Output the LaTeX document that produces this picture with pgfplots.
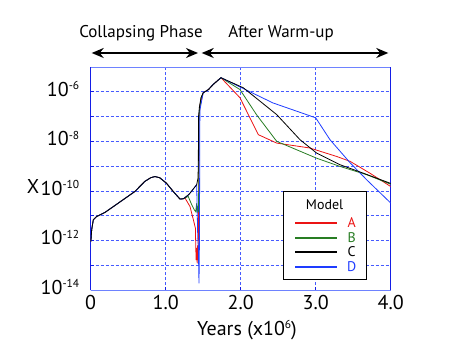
\documentclass[border=0pt]{standalone}
\usepackage{pgfplots}
\pgfplotsset{compat=1.18}
\usepackage{fontspec}
\setmainfont{PT Sans}
\usetikzlibrary{arrows.meta}
\newcommand{\sps}[1]{\raisebox{6.5bp}{\fontsize{11.5bp}{12bp}\selectfont #1}}
\definecolor{gridblue}{RGB}{70,90,255}
\definecolor{axblue}{RGB}{20,30,230}
\definecolor{raxblue}{RGB}{110,130,255}
\definecolor{cA}{RGB}{235,20,20}
\definecolor{cB}{RGB}{40,125,35}
\definecolor{cC}{RGB}{0,0,0}
\definecolor{cD}{RGB}{30,60,255}

\pgfplotstableread{
x y
0.0 8.9e-13
0.004 1.05e-12
0.013 2.7e-12
0.035 6.8e-12
0.08 9.3e-12
0.19 1.35e-11
0.37 3.24e-11
0.59 9.5e-11
0.72 2.4e-10
0.80 3.4e-10
0.857 3.8e-10
0.92 3.4e-10
1.01 2.04e-10
1.10 9.5e-11
1.19 4.7e-11
1.235 4.8e-11
1.26 5.0e-11
1.324 2.34e-11
1.369 6.8e-12
1.396 3.16e-12
1.400 7.9e-13
1.405 1.6e-13
1.410 5.0e-13
1.415 2.5e-13
1.420 1.2e-13
1.425 6.3e-13
1.430 1.6e-13
1.438 2.5e-12
1.442 1.0e-9
1.445 1.0e-7
1.46 3.2e-7
1.50 9.1e-7
1.57 1.23e-6
1.635 2.0e-6
1.737 3.7e-6
1.99 5.75e-7
2.235 1.86e-8
2.48 8.5e-9
2.92 5.4e-9
3.28 2.45e-9
3.46 1.55e-9
3.72 5.25e-10
4.0 1.5e-10
}\modelA

\pgfplotstableread{
x y
0.0 8.9e-13
0.004 1.05e-12
0.013 2.7e-12
0.035 6.8e-12
0.08 9.3e-12
0.19 1.35e-11
0.37 3.24e-11
0.59 9.5e-11
0.72 2.4e-10
0.80 3.4e-10
0.857 3.8e-10
0.92 3.4e-10
1.01 2.04e-10
1.10 9.5e-11
1.19 4.7e-11
1.235 4.8e-11
1.30 6.0e-11
1.347 2.75e-11
1.382 1.7e-11
1.40 1.45e-11
1.413 3.16e-11
1.42 1.26e-11
1.43 2.5e-11
1.438 1.4e-11
1.443 1.0e-8
1.446 1.26e-7
1.471 5.75e-7
1.50 9.1e-7
1.57 1.23e-6
1.635 2.0e-6
1.737 3.7e-6
1.99 1.23e-6
2.21 1.2e-7
2.48 1.0e-8
3.01 2.1e-9
3.32 9.8e-10
3.68 4.5e-10
4.0 1.86e-10
}\modelB

\pgfplotstableread{
x y
0.0 8.9e-13
0.004 1.05e-12
0.013 2.7e-12
0.035 6.8e-12
0.08 9.3e-12
0.19 1.35e-11
0.37 3.24e-11
0.59 9.5e-11
0.72 2.4e-10
0.80 3.4e-10
0.857 3.8e-10
0.92 3.4e-10
1.01 2.04e-10
1.10 9.5e-11
1.19 4.7e-11
1.235 4.8e-11
1.30 6.8e-11
1.324 8.1e-11
1.413 1.78e-10
1.43 3.16e-10
1.435 1.0e-9
1.438 1.0e-7
1.45 2.5e-7
1.471 5.75e-7
1.50 9.1e-7
1.57 1.23e-6
1.635 2.0e-6
1.737 3.7e-6
2.035 1.45e-6
2.48 1.2e-7
2.79 1.17e-8
3.01 3.4e-9
3.32 1.15e-9
3.63 5.25e-10
4.0 2.0e-10
}\modelC

\pgfplotstableread{
x y
0.0 8.9e-13
0.004 1.05e-12
0.013 2.7e-12
0.035 6.8e-12
0.08 9.3e-12
0.19 1.35e-11
0.37 3.24e-11
0.59 9.5e-11
0.72 2.4e-10
0.80 3.4e-10
0.857 3.8e-10
0.92 3.4e-10
1.01 2.04e-10
1.10 9.5e-11
1.19 4.7e-11
1.235 4.8e-11
1.30 6.8e-11
1.324 8.1e-11
1.413 1.78e-10
1.427 1.45e-12
1.435 5.6e-13
1.444 1.86e-14
1.450 1.0e-12
1.455 5.5e-8
1.457 1.9e-7
1.50 9.1e-7
1.57 1.23e-6
1.635 2.0e-6
1.737 3.7e-6
2.43 3.55e-7
3.0 8.9e-8
3.19 1.17e-8
3.46 1.35e-9
3.68 2.8e-10
4.0 3.24e-11
}\modelD

\begin{document}
\begin{tikzpicture}
\path[use as bounding box] (0,0) rectangle (450bp,346bp);
\begin{axis}[
  at={(90.7bp,56bp)}, anchor=south west,
  scale only axis, width=300bp, height=223bp,
  ymode=log,
  xmin=0, xmax=4, ymin=1e-14, ymax=1e-5,
  xtick={0,1,2,3,4},
  xticklabels={0,1.0,2.0,3.0,4.0},
  ytick={1e-14,1e-12,1e-10,1e-8,1e-6},
  yticklabels={10\sps{-14},10\sps{-12},10\sps{-10},10\sps{-8},10\sps{-6}},
  minor ytick={1e-13,1e-11,1e-9,1e-7},
  xmajorgrids, ymajorgrids, yminorgrids,
  major grid style={gridblue, dash pattern=on 3bp off 2bp, line width=0.6bp},
  minor grid style={gridblue, dash pattern=on 3bp off 2bp, line width=0.6bp},
  tick pos=left,
  major tick length=3bp, minor tick length=3bp,
  tick style={axblue, line width=0.7bp},
  axis line style={raxblue, line width=0.8bp},
  separate axis lines,
  y axis line style={axblue},
  ticklabel style={font=\fontsize{20bp}{22bp}\selectfont},
  xticklabel style={yshift=-2bp},
  yticklabel style={xshift=-8bp, yshift=3bp},
]
\addplot[cA, line width=0.8bp] table {\modelA};
\addplot[cB, line width=0.8bp] table {\modelB};
\addplot[cD, line width=0.8bp] table {\modelD};
\addplot[cC, line width=0.8bp] table {\modelC};
\end{axis}
% axis titles
\node[font=\fontsize{20bp}{22bp}\selectfont] at (247bp,16bp) {Years (x10\sps{6})};
\node[font=\fontsize{20bp}{22bp}\selectfont] at (33bp,159bp) {X};
% legend
\draw[black, line width=0.9bp, fill=white] (283.3bp,67bp) rectangle (366bp,154.3bp);
\node[font=\fontsize{14bp}{15bp}\selectfont] at (324.6bp,141bp) {Model};
\draw[cA, line width=1.3bp] (295bp,123bp) -- (337bp,123bp);
\draw[cB, line width=1.3bp] (295bp,108bp) -- (337bp,108bp);
\draw[cC, line width=1.3bp] (295bp,94bp) -- (337bp,94bp);
\draw[cD, line width=1.3bp] (295bp,79bp) -- (337bp,79bp);
\node[font=\fontsize{14bp}{15bp}\selectfont, text=cA] at (351.7bp,123bp) {A};
\node[font=\fontsize{14bp}{15bp}\selectfont, text=cB] at (351.7bp,108bp) {B};
\node[font=\fontsize{14bp}{15bp}\selectfont, text=cC] at (351.7bp,94bp) {C};
\node[font=\fontsize{14bp}{15bp}\selectfont, text=cD] at (351.7bp,79bp) {D};
% phase arrows
\draw[{Stealth[length=12bp,width=10bp]}-{Stealth[length=12bp,width=10bp]}, line width=1.8bp] (91.7bp,293bp) -- (198bp,293bp);
\draw[{Stealth[length=12bp,width=10bp]}-{Stealth[length=12bp,width=10bp]}, line width=1.8bp] (201.7bp,293bp) -- (388.3bp,293bp);
\node[font=\fontsize{17bp}{19bp}\selectfont] at (141bp,313bp) {Collapsing Phase};
\node[font=\fontsize{17bp}{19bp}\selectfont] at (281bp,313bp) {After Warm-up};
\end{tikzpicture}
\end{document}
